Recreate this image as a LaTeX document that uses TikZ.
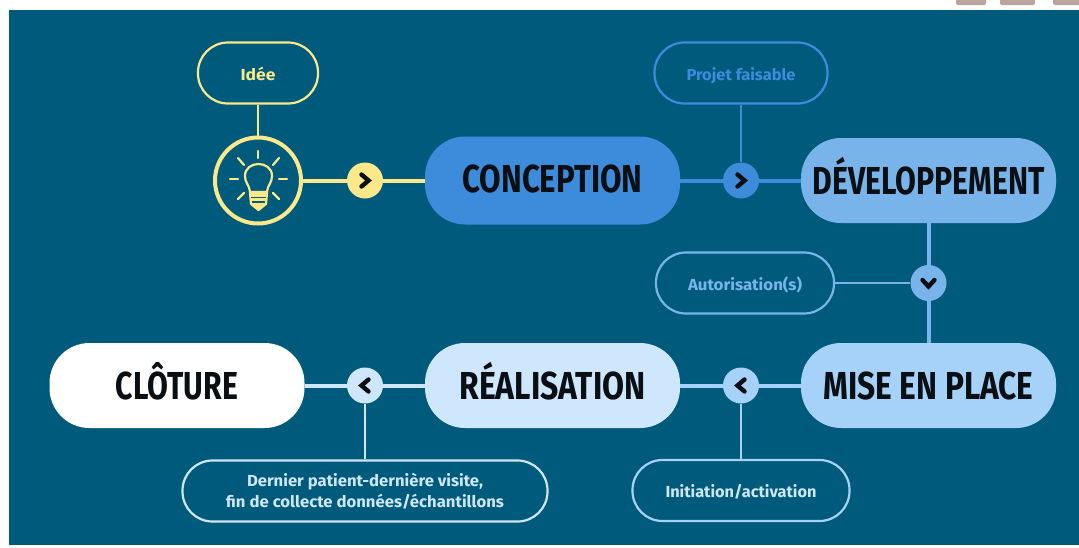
\documentclass[tikz,border=0pt]{standalone}
\usepackage{fontspec}
\setmainfont{Fira Sans}
\usetikzlibrary{calc}
\definecolor{bgteal}{HTML}{005A7C}
\definecolor{cyel}{HTML}{FBE88A}
\definecolor{cone}{HTML}{3D8BDB}
\definecolor{ctwo}{HTML}{78B4EA}
\definecolor{cthree}{HTML}{A6D2FA}
\definecolor{cfour}{HTML}{CFE7FD}
\definecolor{cgray}{HTML}{B9A59B}
\definecolor{cink}{HTML}{0A0F14}
\newcommand{\ttl}[2]{\resizebox{#1pt}{\height}{\fontsize{39pt}{39pt}\selectfont\bfseries #2}}
\newcommand{\lbl}[2]{\resizebox{#1pt}{\height}{\fontsize{16pt}{17pt}\selectfont\bfseries #2}}
\tikzset{
  x=1pt,y=-1pt,
  phase/.style={rounded corners=40pt,inner sep=0pt,minimum width=255pt,minimum height=85pt,
    text=cink,text height=27pt,text depth=0pt,align=center},
  pill/.style={draw,line width=2.2pt,rounded corners=30pt,inner sep=0pt,minimum height=61pt,align=center},
  oneline/.style={text height=14pt,text depth=0pt},
  dot/.style={circle,inner sep=0pt,minimum size=36pt},
  main/.style={line width=4pt},
  leader/.style={line width=2pt},
  chevstroke/.style={cink,line width=4.4pt,line cap=round},
}
\begin{document}
\begin{tikzpicture}
\useasboundingbox (0,0) rectangle (1079,547);
\fill[white] (0,0) rectangle (1079,547);
\fill[cgray,rounded corners=2pt] (956,-6) rectangle (986,5);
\fill[cgray,rounded corners=2pt] (1000,-6) rectangle (1035,5);
\fill[cgray,rounded corners=2pt] (1053,-6) rectangle (1085,5);
\fill[bgteal] (9,10) rectangle (1079,545);

% phases
\node[phase,fill=cone,minimum height=88pt,text height=24pt] (conc) at (552.5,180.5) {\ttl{180}{CONCEPTION}};
\node[phase,fill=ctwo] (dev) at (928.5,180.5) {\ttl{232}{DÉVELOPPEMENT}};
\node[phase,fill=cthree] (mise) at (928.5,385.5) {\ttl{210}{MISE EN PLACE}};
\node[phase,fill=cfour] (real) at (552.5,385.5) {\ttl{186}{RÉALISATION}};
\node[phase,fill=white] (clot) at (177,385.5) {\ttl{122}{CLÔTURE}};

% bulb
\node[circle,draw=cyel,line width=4pt,inner sep=0pt,minimum size=86pt] (bulb) at (258,180.5) {};

% chevron dots
\node[dot,fill=cyel] (d1) at (365,180.5) {};
\node[dot,fill=cone] (d2) at (741,180.5) {};
\node[dot,fill=ctwo] (d3) at (928.5,283) {};
\node[dot,fill=cthree] (d4) at (741,385.5) {};
\node[dot,fill=cfour] (d5) at (365,385.5) {};

% small pills
\node[pill,oneline,draw=cyel,text=cyel,minimum width=120pt] (idee) at (258,73) {\lbl{35}{Idée}};
\node[pill,oneline,draw=cone,text=cone,minimum width=173pt] (proj) at (741,73) {\lbl{109}{Projet faisable}};
\node[pill,oneline,draw=ctwo,text=ctwo,minimum width=178pt] (auto) at (745,283) {\lbl{114}{Autorisation(s)}};
\node[pill,oneline,draw=cthree,text=cfour,minimum width=217pt] (init) at (741,490.5) {\lbl{151}{Initiation/activation}};
\node[pill,draw=cfour,text=cfour,minimum width=365pt] (dern) at (365,491)
  {\lbl{236}{Dernier patient-dernière visite,}\\[3pt]\lbl{278}{fin de collecte données/échantillons}};

% main connectors
\draw[main,cyel] (bulb) -- (d1);
\draw[main,cyel] (d1) -- (conc);
\draw[main,cone] (conc) -- (d2);
\draw[main,cone] (d2) -- (dev);
\draw[main,ctwo] (dev) -- (d3);
\draw[main,ctwo] (d3) -- (mise);
\draw[main,cthree] (mise) -- (d4);
\draw[main,cthree] (d4) -- (real);
\draw[main,cfour] (real) -- (d5);
\draw[main,cfour] (d5) -- (clot);

% leaders
\draw[leader,cyel] (idee) -- (bulb);
\draw[leader,cone] (proj) -- (d2);
\draw[leader,ctwo] (auto) -- (d3);
\draw[leader,cthree] (init) -- (d4);
\draw[leader,cfour] (dern) -- (d5);

% chevrons
\draw[chevstroke] ($(d1)+(-3.5,-6)$) -- ($(d1)+(3.5,0)$) -- ($(d1)+(-3.5,6)$);
\draw[chevstroke] ($(d2)+(-3.5,-6)$) -- ($(d2)+(3.5,0)$) -- ($(d2)+(-3.5,6)$);
\draw[chevstroke] ($(d3)+(-6,-3)$) -- ($(d3)+(0,3.5)$) -- ($(d3)+(6,-3)$);
\draw[chevstroke] ($(d4)+(3.5,-6)$) -- ($(d4)+(-3.5,0)$) -- ($(d4)+(3.5,6)$);
\draw[chevstroke] ($(d5)+(3.5,-6)$) -- ($(d5)+(-3.5,0)$) -- ($(d5)+(3.5,6)$);

% bulb icon
\begin{scope}[cyel,line width=2.2pt,line cap=round,line join=round]
  \draw (258,151) -- (258,158);
  \draw (230,179) -- (238,179);
  \draw (279,179) -- (287,179);
  \draw (238,158) -- (244,165);
  \draw (279,158) -- (273,165);
  \draw (238,199) -- (244,193);
  \draw (279,199) -- (273,193);
  \draw (250,192) .. controls (249,184) and (245,183) .. (245,176)
    .. controls (245,160) and (272,160) .. (272,176)
    .. controls (272,183) and (268,184) .. (267,192) -- cycle;
  \draw[fill=cyel] (250,193) -- (267,193) -- (266,204) -- (258.5,210) -- (251,204) -- cycle;
  \draw[bgteal,line width=1.2pt,line cap=butt] (251,197.5) -- (266,197.5);
  \draw[bgteal,line width=1.2pt,line cap=butt] (252,202) -- (265,202);
\end{scope}
\end{tikzpicture}
\end{document}
